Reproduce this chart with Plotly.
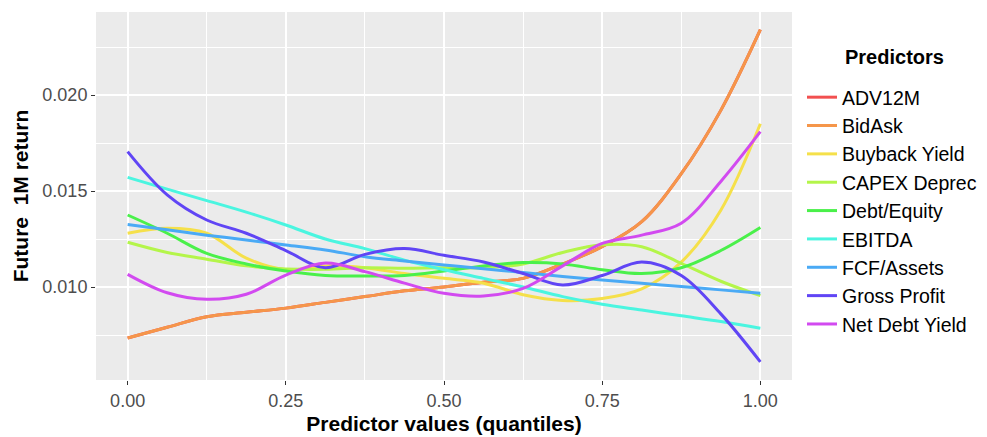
import plotly.graph_objects as go

x_q = [0, 0.0625, 0.125, 0.1875, 0.25, 0.3125, 0.375, 0.4375, 0.5,
       0.5625, 0.625, 0.6875, 0.75, 0.8125, 0.875, 0.9375, 1.0]

bidask = [0.00734, 0.0079, 0.00845, 0.00868, 0.0089, 0.0092, 0.0095, 0.0098, 0.0100,
          0.01025, 0.01045, 0.0112, 0.0121, 0.0134, 0.0159, 0.0192, 0.0234]
adv12m = list(bidask)  # hidden underneath BidAsk in the reference
buyback = [0.0128, 0.01306, 0.0128, 0.0115, 0.0109, 0.0111, 0.0110, 0.0107, 0.01045,
           0.0102, 0.0096, 0.0093, 0.0094, 0.0099, 0.0113, 0.0140, 0.0185]
capex = [0.01233, 0.0118, 0.01145, 0.0111, 0.01094, 0.01092, 0.0110, 0.01098, 0.0110,
         0.0110, 0.0112, 0.0118, 0.0122, 0.0121, 0.01123, 0.0103, 0.00955]
debt_eq = [0.01375, 0.0128, 0.01175, 0.0112, 0.01083, 0.0106, 0.01057, 0.0106, 0.01083,
           0.0111, 0.01127, 0.0112, 0.0109, 0.0107, 0.0110, 0.0119, 0.0131]
ebitda = [0.01571, 0.0151, 0.0145, 0.0139, 0.01323, 0.0125, 0.0120, 0.0114, 0.0109,
          0.01045, 0.0100, 0.0095, 0.0091, 0.0088, 0.0085, 0.0082, 0.00785]
fcf = [0.01326, 0.01298, 0.0127, 0.01245, 0.01219, 0.01193, 0.01158, 0.01136, 0.01115,
       0.01095, 0.01076, 0.01055, 0.01036, 0.01019, 0.01002, 0.00985, 0.00967]
gross = [0.01705, 0.0148, 0.01349, 0.0128, 0.0119, 0.0110, 0.0117, 0.0120, 0.01165,
         0.0113, 0.0107, 0.0101, 0.0106, 0.0113, 0.0106, 0.0086, 0.0061]
netdebt = [0.01066, 0.0097, 0.00936, 0.00962, 0.01062, 0.01125, 0.0108, 0.0102, 0.00967,
           0.00953, 0.00993, 0.0111, 0.01227, 0.0127, 0.01332, 0.0155, 0.01809]

names = ["ADV12M", "BidAsk", "Buyback Yield", "CAPEX Deprec", "Debt/Equity",
         "EBITDA", "FCF/Assets", "Gross Profit", "Net Debt Yield"]
series = [adv12m, bidask, buyback, capex, debt_eq, ebitda, fcf, gross, netdebt]
colors = ["#F25050", "#F5964A", "#F5E04A", "#B4F54A", "#4AF04A",
          "#4AF5E0", "#4AAAF5", "#6045F5", "#D24AF0"]

fig = go.Figure()
for n, s, c in zip(names, series, colors):
    fig.add_trace(go.Scatter(x=x_q, y=s, mode="lines", name=n, legendgroup=n,
                             line=dict(color=c, width=3, shape="spline", smoothing=1.0)))

font_fam = "Liberation Sans, Arial, sans-serif"
fig.update_layout(
    width=987, height=437,
    margin=dict(l=96, r=195, t=12, b=57, autoexpand=False),
    paper_bgcolor="white", plot_bgcolor="#EBEBEB",
    font=dict(family=font_fam, color="black"),
    legend=dict(
        font=dict(size=19.5), xref="container", yref="container",
        x=802 / 987, y=1 - 78 / 437, xanchor="left", yanchor="top",
        itemwidth=30, tracegroupgap=0, traceorder="grouped", maxheight=340,
        bgcolor="rgba(0,0,0,0)"),
    annotations=[dict(text="<b>Predictors</b>", xref="paper", yref="paper",
                      x=(843 - 96) / 696, y=1 - (57 - 12) / 368,
                      xanchor="left", yanchor="middle",
                      showarrow=False, font=dict(size=20, color="black"))],
    xaxis=dict(
        range=[-0.05, 1.05], tickvals=[0, 0.25, 0.5, 0.75, 1.0],
        ticktext=["0.00", "0.25", "0.50", "0.75", "1.00"], automargin=False,
        showgrid=True, gridcolor="white", gridwidth=1.6, zeroline=False,
        ticks="outside", ticklen=4, tickcolor="#333333",
        tickfont=dict(size=18, color="#4D4D4D"),
        minor=dict(dtick=0.125, tick0=0, showgrid=True, gridcolor="white", gridwidth=0.8),
        title=dict(text="<b>Predictor values (quantiles)</b>", font=dict(size=21), standoff=6),
    ),
    yaxis=dict(
        range=[0.005156, 0.024323], tickvals=[0.010, 0.015, 0.020],
        ticktext=["0.010", "0.015", "0.020"], automargin=False,
        showgrid=True, gridcolor="white", gridwidth=1.6, zeroline=False,
        ticks="outside", ticklen=4, tickcolor="#333333",
        tickfont=dict(size=18, color="#4D4D4D"),
        minor=dict(dtick=0.0025, tick0=0, showgrid=True, gridcolor="white", gridwidth=0.8),
        title=dict(text="<b>Future  1M return</b>", font=dict(size=21), standoff=8),
    ),
)

fig.write_html("out.html")
